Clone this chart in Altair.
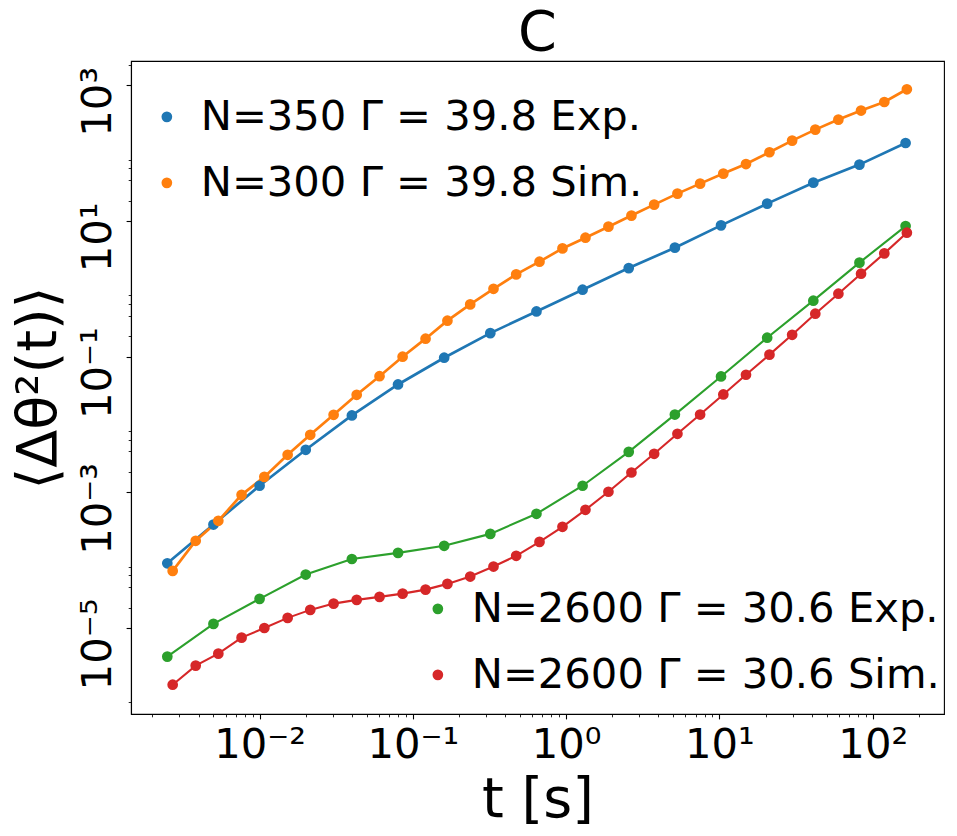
import json
import altair as alt
import pandas as pd

# ---------------- data ----------------
t_exp = [0.0025, 0.005, 0.01, 0.02, 0.04, 0.08, 0.16, 0.32, 0.64, 1.28,
         2.56, 5.12, 10.24, 20.48, 40.96, 81.92, 163.84]
t_sim = [0.00271, 0.00383, 0.00538, 0.00763, 0.01074, 0.01524, 0.0214, 0.0304,
         0.0430, 0.0606, 0.0857, 0.121, 0.168, 0.2366, 0.3357, 0.472, 0.670,
         0.946, 1.336, 1.887, 2.666, 3.75, 5.32, 7.48, 10.6, 14.9, 21.2, 29.8,
         42.2, 59.7, 83.9, 119, 167]

msd_n350_exp = [9.0e-5, 3.35e-4, 1.25e-3, 4.24e-3, 1.36e-2, 3.89e-2, 9.64e-2,
                0.222, 0.464, 0.970, 2.02, 4.04, 8.61, 18.0, 36.7, 67.7, 141]
msd_n300_sim = [6.95e-5, 1.93e-4, 3.80e-4, 9.18e-4, 1.69e-3, 3.57e-3, 7.05e-3,
                1.39e-2, 2.74e-2, 5.15e-2, 9.97e-2, 0.184, 0.339, 0.589, 1.00,
                1.63, 2.51, 3.94, 5.67, 8.24, 12.0, 17.4, 25.3, 35.5, 49.9,
                69.0, 103, 153, 222, 312, 424, 567, 873]
msd_n2600_exp = [3.79e-6, 1.15e-5, 2.69e-5, 6.14e-5, 1.04e-4, 1.28e-4, 1.63e-4,
                 2.44e-4, 4.82e-4, 1.25e-3, 3.95e-3, 1.40e-2, 5.10e-2, 0.190,
                 0.668, 2.43, 8.41]
msd_n2600_sim = [1.46e-6, 2.79e-6, 4.19e-6, 7.21e-6, 1.00e-5, 1.41e-5, 1.85e-5,
                 2.29e-5, 2.60e-5, 2.88e-5, 3.21e-5, 3.68e-5, 4.47e-5, 5.73e-5,
                 8.05e-5, 1.16e-4, 1.86e-4, 3.10e-4, 5.52e-4, 1.02e-3, 1.96e-3,
                 3.70e-3, 7.29e-3, 1.40e-2, 2.77e-2, 5.41e-2, 0.107, 0.210,
                 0.430, 0.847, 1.67, 3.33, 6.72]

labels_a = ["N=350 Γ = 39.8 Exp.", "N=300 Γ = 39.8 Sim."]
labels_b = ["N=2600 Γ = 30.6 Exp.", "N=2600 Γ = 30.6 Sim."]
colors_a = ["#1f77b4", "#ff7f0e"]
colors_b = ["#2ca02c", "#d62728"]

x_major = [0.01, 0.1, 1, 10, 100]
x_major_labels = ["10⁻²", "10⁻¹", "10⁰", "10¹", "10²"]
x_minor = [0.002, 0.003, 0.004, 0.005, 0.006, 0.007, 0.008, 0.009,
           0.02, 0.03, 0.04, 0.05, 0.06, 0.07, 0.08, 0.09,
           0.2, 0.3, 0.4, 0.5, 0.6, 0.7, 0.8, 0.9,
           2, 3, 4, 5, 6, 7, 8, 9,
           20, 30, 40, 50, 60, 70, 80, 90, 200]
y_major = [1e-5, 1e-3, 0.1, 10, 1000]
y_major_labels = ["10⁻⁵", "10⁻³", "10⁻¹", "10¹", "10³"]
y_minor = [8e-7, 2e-5, 4e-5, 6e-5, 8e-5, 0.002, 0.004, 0.006, 0.008,
           0.2, 0.4, 0.6, 0.8, 20, 40, 60, 80, 2000]

X_DOMAIN = [0.001449, 291.7]
Y_DOMAIN = [5.4e-7, 2280]

W, H = 813, 653
FONT = "DejaVu Sans"
TICK_FS = 41.7
LABEL_FS = 55.6

# ---------------- tables ----------------
def frame(t, v, name):
    return pd.DataFrame({"t": t, "msd": v, "series": name})

df_blue = frame(t_exp, msd_n350_exp, labels_a[0])
df_orange = frame(t_sim, msd_n300_sim, labels_a[1])
df_green = frame(t_exp, msd_n2600_exp, labels_b[0])
df_red = frame(t_sim, msd_n2600_sim, labels_b[1])
dfA = pd.concat([df_blue, df_orange], ignore_index=True)
dfB = pd.concat([df_green, df_red], ignore_index=True)


def label_expr(major, labels):
    m = json.dumps(major)
    lab = json.dumps(labels, ensure_ascii=False)
    return f"indexof({m}, datum.value) >= 0 ? {lab}[indexof({m}, datum.value)] : ''"


def is_major(major):
    return f"indexof({json.dumps(major)}, datum.value) >= 0"


x_axis = alt.Axis(
    values=x_major + x_minor,
    labelExpr=label_expr(x_major, x_major_labels),
    tickSize={"condition": {"test": is_major(x_major), "value": 4.9}, "value": 2.8},
    tickWidth={"condition": {"test": is_major(x_major), "value": 1.1}, "value": 0.85},
    tickColor="black", domainColor="black", domainWidth=1.1,
    labelFont=FONT, labelFontSize=TICK_FS, labelColor="black",
    labelPadding=6, labelOverlap=False, labelFlush=False,
    grid=False,
    title="t [s]", titleFont=FONT, titleFontSize=LABEL_FS, titleFontWeight="normal",
    titleColor="black", titleBaseline="alphabetic", titleX=W / 2, titleY=102,
    titleAlign="center",
)

y_axis = alt.Axis(
    values=y_major + y_minor,
    labelExpr=label_expr(y_major, y_major_labels),
    tickSize={"condition": {"test": is_major(y_major), "value": 4.9}, "value": 2.8},
    tickWidth={"condition": {"test": is_major(y_major), "value": 1.1}, "value": 0.85},
    tickColor="black", domainColor="black", domainWidth=1.1,
    labelFont=FONT, labelFontSize=TICK_FS, labelColor="black",
    labelAngle=270, labelAlign="center", labelBaseline="bottom",
    labelPadding=7, labelOffset=16, labelOverlap=False, labelFlush=False,
    grid=False,
    title="⟨Δθ²(t)⟩", titleFont=FONT, titleFontSize=LABEL_FS, titleFontWeight="normal",
    titleColor="black", titleAngle=270, titleBaseline="alphabetic", titleAlign="center",
    titleX=-76, titleY=H / 2,
)

x_enc = alt.X("t:Q", scale=alt.Scale(type="log", domain=X_DOMAIN, nice=False), axis=x_axis)
y_enc = alt.Y("msd:Q", scale=alt.Scale(type="log", domain=Y_DOMAIN, nice=False), axis=y_axis)


def legend(x, y):
    return alt.Legend(
        title=None, orient="none", legendX=x, legendY=y, direction="vertical",
        labelFont=FONT, labelFontSize=TICK_FS, labelColor="black", labelLimit=2000,
        labelOffset=13, symbolType="circle", symbolSize=115, symbolStrokeWidth=0,
        symbolOpacity=1, rowPadding=23, padding=0,
    )


def line(df, color, width):
    return alt.Chart(df).mark_line(color=color, strokeWidth=width).encode(x=x_enc, y=y_enc)


lines = [
    line(df_blue, colors_a[0], 2.7),
    line(df_orange, colors_a[1], 2.7),
    line(df_green, colors_b[0], 2.1),
    line(df_red, colors_b[1], 2.1),
]

pointA = alt.Chart(dfA).mark_circle(size=115, opacity=1).encode(
    x=x_enc, y=y_enc,
    color=alt.Color("series:N", scale=alt.Scale(domain=labels_a, range=colors_a),
                    legend=legend(15, 35)))
pointB = alt.Chart(dfB).mark_circle(size=115, opacity=1).encode(
    x=x_enc, y=y_enc,
    color=alt.Color("series:N", scale=alt.Scale(domain=labels_b, range=colors_b),
                    legend=legend(286, 527)))

chart = (
    alt.layer(*lines, pointA, pointB)
    .resolve_scale(color="independent")
    .properties(
        width=W, height=H,
        title=alt.TitleParams(text="C", font=FONT, fontSize=LABEL_FS, fontWeight="normal",
                              color="black", anchor="middle", frame="group",
                              baseline="alphabetic", offset=-45),
        padding={"left": 123, "top": 53, "right": 5, "bottom": 115},
        autosize=alt.AutoSizeParams(type="none"),
        background="white",
    )
    .configure_view(stroke="black", strokeWidth=1.1)
)

chart.save("out.html", embed_options={"renderer": "svg", "actions": False})
